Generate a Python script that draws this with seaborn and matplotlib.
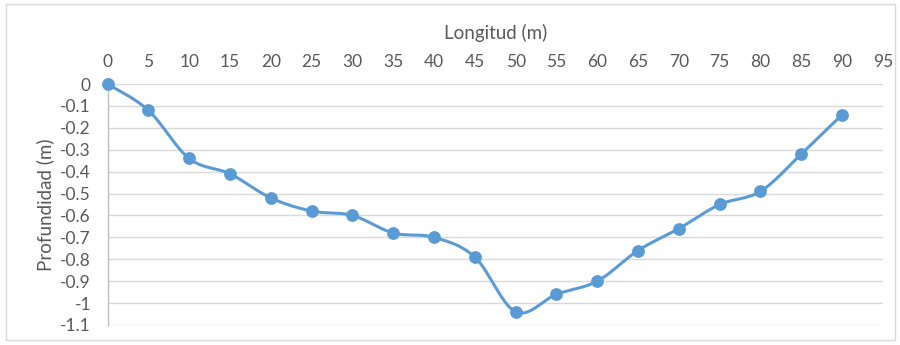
import numpy as np
import pandas as pd
import matplotlib
matplotlib.use("Agg")
import matplotlib.pyplot as plt
from matplotlib.patches import Rectangle
import seaborn as sns

# Cross-section survey: distance along the section and measured depth
longitud = [0, 5, 10, 15, 20, 25, 30, 35, 40, 45, 50, 55, 60, 65, 70, 75, 80, 85, 90]
profundidad = [0, -0.12, -0.34, -0.41, -0.52, -0.58, -0.60, -0.68, -0.70, -0.79,
               -1.04, -0.96, -0.90, -0.76, -0.66, -0.55, -0.49, -0.32, -0.14]
x_ticks = list(range(0, 100, 5))
y_ticks = [0, -0.1, -0.2, -0.3, -0.4, -0.5, -0.6, -0.7, -0.8, -0.9, -1, -1.1]
y_tick_labels = ["0", "-0.1", "-0.2", "-0.3", "-0.4", "-0.5", "-0.6", "-0.7",
                 "-0.8", "-0.9", "-1", "-1.1"]


def catmull_rom(xs, ys, n=30):
    """Smooth curve through the points (Catmull-Rom / Bezier 1/6 handles)."""
    p = np.column_stack([xs, ys]).astype(float)
    p = np.vstack([p[0], p, p[-1]])
    out = []
    t = np.linspace(0, 1, n, endpoint=False)[:, None]
    for i in range(1, len(p) - 2):
        p0, p1, p2, p3 = p[i - 1], p[i], p[i + 1], p[i + 2]
        c1 = p1 + (p2 - p0) / 6.0
        c2 = p2 - (p3 - p1) / 6.0
        seg = ((1 - t) ** 3) * p1 + 3 * ((1 - t) ** 2) * t * c1 \
            + 3 * (1 - t) * t ** 2 * c2 + t ** 3 * p2
        out.append(seg)
    out.append(p[-2][None, :])
    return np.vstack(out)


df = pd.DataFrame({"Longitud": longitud, "Profundidad": profundidad})
curve = catmull_rom(longitud, profundidad)
df_curve = pd.DataFrame({"Longitud": curve[:, 0], "Profundidad": curve[:, 1]})

sns.set_theme(style="white")
plt.rcParams["font.family"] = ["Lato", "DejaVu Sans"]

color = "#5B9BD5"
text_color = "#595959"

fig = plt.figure(figsize=(9, 3.45), dpi=100)
ax = fig.add_axes([0.1195, 0.058, 0.8615, 0.6985])

sns.lineplot(data=df_curve, x="Longitud", y="Profundidad", ax=ax, color=color,
             linewidth=2.2, sort=False, estimator=None, zorder=3)
sns.scatterplot(data=df, x="Longitud", y="Profundidad", ax=ax, color=color,
                s=85, edgecolor=color, linewidth=0, zorder=4, clip_on=False)

ax.set_xlim(0, 95)
ax.set_ylim(-1.1, 0)
ax.set_xticks(x_ticks)
ax.set_yticks(y_ticks)
ax.set_yticklabels(y_tick_labels)
ax.xaxis.tick_top()
ax.xaxis.set_label_position("top")
ax.set_xlabel("Longitud (m)", fontsize=13.5, color=text_color, labelpad=11)
ax.set_ylabel("Profundidad (m)", fontsize=13.5, color=text_color, labelpad=4)
ax.tick_params(axis="both", length=0, labelsize=12.5, labelcolor=text_color)
ax.tick_params(axis="x", pad=10)
ax.tick_params(axis="y", pad=12)

ax.grid(axis="y", color="#D9D9D9", linewidth=1.0)
ax.grid(axis="x", visible=False)
ax.set_axisbelow(True)
for side in ["top", "right", "bottom"]:
    ax.spines[side].set_visible(False)
ax.spines["left"].set_color("#BFBFBF")
ax.spines["left"].set_linewidth(1.0)

# Outer chart frame
fig.patches.append(Rectangle((6 / 900, 5 / 345), 889 / 900, 336 / 345,
                             transform=fig.transFigure, fill=False,
                             edgecolor="#D9D9D9", linewidth=1.0))

fig.savefig("out.png", dpi=100, facecolor="white")
